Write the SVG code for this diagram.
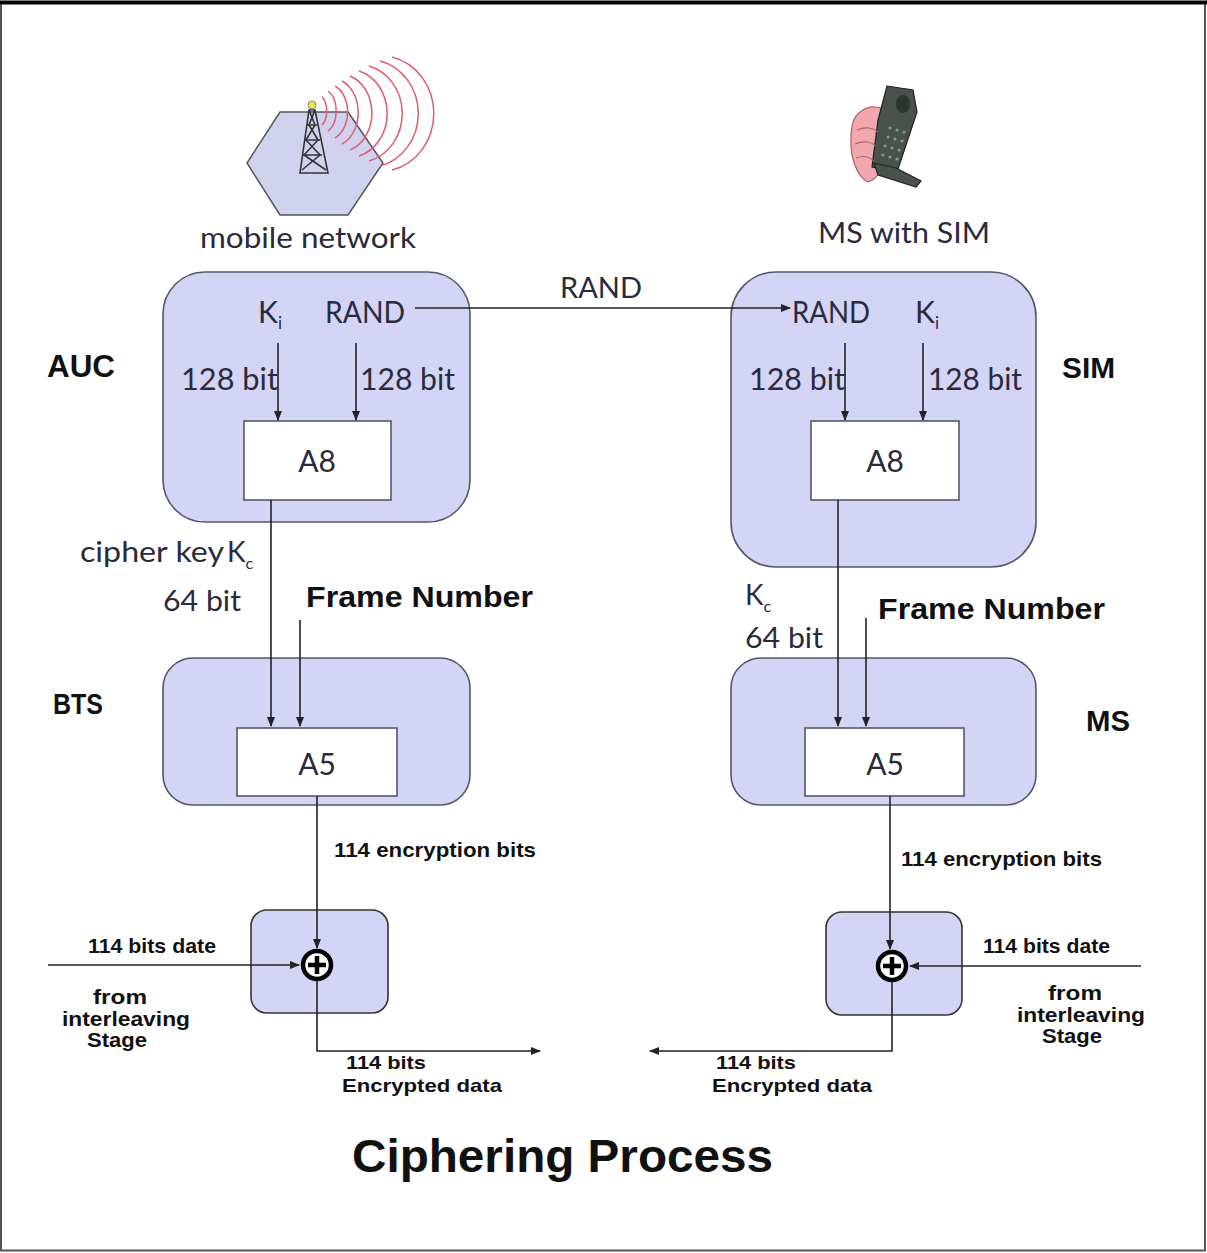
<svg xmlns="http://www.w3.org/2000/svg" width="1207" height="1253" viewBox="0 0 1207 1253">
  <style>
    .blk { fill: #d4d4f6; stroke: #55556a; stroke-width: 1.6; }
    .alg { fill: #ffffff; stroke: #55556a; stroke-width: 1.6; }
    .xorbox { fill: #d4d4f6; stroke: #333; stroke-width: 1.6; }
    .cal { font-family: Lato, "Open Sans", sans-serif; fill: #2a2a3c; }
    .bold { font-family: "Liberation Sans", Arial, sans-serif; font-weight: bold; fill: #111; }
    .wire { stroke: #222; stroke-width: 1.6; fill: none; }
    .wave { stroke: #e35a6e; stroke-width: 1.5; fill: none; }
    .xor { fill: #fff; stroke: #000; stroke-width: 4.5; }
    .plus { stroke: #000; stroke-width: 4.5; }
  </style>
  <defs>
    <marker id="arr" markerUnits="userSpaceOnUse" markerWidth="10" markerHeight="8" refX="9" refY="4" orient="auto">
      <path d="M0,0 L10,4 L0,8 z" fill="#222"/>
    </marker>
  </defs>

  <!-- page frame -->
  <rect x="1" y="2.5" width="1204" height="1248" fill="#fff" stroke="#555" stroke-width="2"/>
  <line x1="0" y1="2.5" x2="1207" y2="2.5" stroke="#000" stroke-width="4"/>

  <!-- network cell icon -->
  <g id="mobile-network">
    <polygon points="280,112 348,112 383,163 348,215 280,215 247,163" fill="#d0d2f0" stroke="#555" stroke-width="1.5"/>
    <g class="wave">
      <path d="M322,97 A9,16 0 0 1 322,125"/>
      <path d="M328,91 A14,22 0 0 1 328,131"/>
      <path d="M335,86 A20,28 0 0 1 335,138"/>
      <path d="M342,81 A26,34 0 0 1 342,144"/>
      <path d="M350,76 A32,39 0 0 1 350,150"/>
      <path d="M359,71 A38,44 0 0 1 359,156"/>
      <path d="M369,66 A44,49 0 0 1 369,161"/>
      <path d="M380,61 A50,54 0 0 1 380,166"/>
      <path d="M392,57 A54,58 0 0 1 392,170"/>
    </g>
    <g stroke="#333" stroke-width="1.6" fill="none">
      <path d="M309,110 L300,173 L328,173 L315,110 Z"/>
      <path d="M309,110 L315,125 L306,140 L320,155 L302,170"/>
      <path d="M315,110 L309,125 L318,140 L304,155 L326,170"/>
      <path d="M307,125 L317,125 M305,140 L320,140 M303,155 L322,155"/>
    </g>
    <circle cx="312" cy="105" r="4" fill="#e8e84a" stroke="#888" stroke-width="1"/>
    <text class="cal" x="308" y="248" font-size="28" text-anchor="middle" textLength="216" lengthAdjust="spacingAndGlyphs">mobile network</text>
  </g>

  <!-- handset icon -->
  <g id="ms-handset">
    <path d="M860,112 C870,104 884,106 886,114 L886,150 C884,166 880,178 868,182 C856,176 850,156 851,138 C851,124 854,116 860,112 Z" fill="#f0a8ae" stroke="#b06068" stroke-width="1.2"/>
    <path d="M887,86 L913,90 L917,112 L897,172 L872,167 L878,120 Z" fill="#4a524c" stroke="#222" stroke-width="1.2"/>
    <ellipse cx="903" cy="104" rx="7" ry="9" fill="#2f3530"/>
    <g fill="#8a9a8e">
      <circle cx="890" cy="128" r="1.6"/><circle cx="897" cy="130" r="1.6"/><circle cx="904" cy="132" r="1.6"/>
      <circle cx="888" cy="137" r="1.6"/><circle cx="895" cy="139" r="1.6"/><circle cx="902" cy="141" r="1.6"/>
      <circle cx="885" cy="146" r="1.6"/><circle cx="892" cy="148" r="1.6"/><circle cx="899" cy="150" r="1.6"/>
      <circle cx="883" cy="155" r="1.6"/><circle cx="890" cy="157" r="1.6"/><circle cx="897" cy="159" r="1.6"/>
    </g>
    <path d="M874,163 L896,168 L921,181 L916,187 L878,175 Z" fill="#4a524c" stroke="#222" stroke-width="1.2"/>
    <path d="M857,130 C866,126 874,128 878,132 M855,144 C864,140 872,142 876,146 M856,158 C864,155 870,157 874,161" stroke="#b06068" stroke-width="1.2" fill="none"/>
    <text class="cal" x="904" y="243" font-size="28" text-anchor="middle" textLength="172" lengthAdjust="spacingAndGlyphs">MS with SIM</text>
  </g>

  <!-- AUC -->
  <g id="auc">
    <rect class="blk" x="163" y="272" width="307" height="250" rx="42"/>
    <text class="cal" x="258" y="323" font-size="30">K<tspan font-size="17" dy="6">i</tspan></text>
    <text class="cal" x="325" y="323" font-size="30" textLength="80" lengthAdjust="spacingAndGlyphs">RAND</text>
    <text class="cal" x="181" y="390" font-size="30" textLength="97" lengthAdjust="spacingAndGlyphs">128 bit</text>
    <text class="cal" x="360" y="390" font-size="30" textLength="95" lengthAdjust="spacingAndGlyphs">128 bit</text>
    <text class="bold" x="47" y="377" font-size="31" textLength="68" lengthAdjust="spacingAndGlyphs">AUC</text>
  </g>
  <g id="auc-a8">
    <rect class="alg" x="244" y="421" width="147" height="79"/>
    <text class="cal" x="317" y="472" font-size="30" text-anchor="middle">A8</text>
  </g>

  <!-- SIM -->
  <g id="sim">
    <rect class="blk" x="731" y="272" width="305" height="295" rx="45"/>
    <text class="cal" x="792" y="323" font-size="30" textLength="78" lengthAdjust="spacingAndGlyphs">RAND</text>
    <text class="cal" x="915" y="323" font-size="30">K<tspan font-size="17" dy="6">i</tspan></text>
    <text class="cal" x="749" y="390" font-size="30" textLength="96" lengthAdjust="spacingAndGlyphs">128 bit</text>
    <text class="cal" x="928" y="390" font-size="30" textLength="94" lengthAdjust="spacingAndGlyphs">128 bit</text>
    <text class="bold" x="1062" y="378" font-size="29" textLength="53" lengthAdjust="spacingAndGlyphs">SIM</text>
  </g>
  <g id="sim-a8">
    <rect class="alg" x="811" y="421" width="148" height="79"/>
    <text class="cal" x="885" y="472" font-size="30" text-anchor="middle">A8</text>
  </g>

  <!-- BTS -->
  <g id="bts">
    <rect class="blk" x="163" y="658" width="307" height="147" rx="30"/>
    <text class="bold" x="53" y="714" font-size="29" textLength="50" lengthAdjust="spacingAndGlyphs">BTS</text>
  </g>
  <g id="bts-a5">
    <rect class="alg" x="237" y="728" width="160" height="68"/>
    <text class="cal" x="317" y="775" font-size="30" text-anchor="middle">A5</text>
  </g>

  <!-- MS -->
  <g id="ms">
    <rect class="blk" x="731" y="658" width="305" height="147" rx="30"/>
    <text class="bold" x="1086" y="731" font-size="29" textLength="44" lengthAdjust="spacingAndGlyphs">MS</text>
  </g>
  <g id="ms-a5">
    <rect class="alg" x="805" y="728" width="159" height="68"/>
    <text class="cal" x="885" y="775" font-size="30" text-anchor="middle">A5</text>
  </g>

  <!-- XOR stages -->
  <g id="xor-left">
    <rect class="xorbox" x="251" y="910" width="137" height="103" rx="16"/>
    <circle class="xor" cx="317" cy="965" r="14"/>
    <line class="plus" x1="308" y1="965" x2="326" y2="965"/>
    <line class="plus" x1="317" y1="956" x2="317" y2="974"/>
  </g>
  <g id="xor-right">
    <rect class="xorbox" x="826" y="912" width="136" height="103" rx="16"/>
    <circle class="xor" cx="892" cy="966" r="14"/>
    <line class="plus" x1="883" y1="966" x2="901" y2="966"/>
    <line class="plus" x1="892" y1="957" x2="892" y2="975"/>
  </g>

  <!-- connectors -->
  <g id="connectors">
    <line class="wire" x1="278" y1="343" x2="278" y2="420" marker-end="url(#arr)"/>
    <line class="wire" x1="356" y1="343" x2="356" y2="420" marker-end="url(#arr)"/>
    <line class="wire" x1="415" y1="308" x2="790" y2="308" marker-end="url(#arr)"/>
    <line class="wire" x1="845" y1="343" x2="845" y2="420" marker-end="url(#arr)"/>
    <line class="wire" x1="923" y1="343" x2="923" y2="420" marker-end="url(#arr)"/>
    <line class="wire" x1="271" y1="500" x2="271" y2="726" marker-end="url(#arr)"/>
    <line class="wire" x1="300" y1="620" x2="300" y2="726" marker-end="url(#arr)"/>
    <line class="wire" x1="838" y1="500" x2="838" y2="726" marker-end="url(#arr)"/>
    <line class="wire" x1="866" y1="618" x2="866" y2="726" marker-end="url(#arr)"/>
    <line class="wire" x1="317" y1="796" x2="317" y2="948" marker-end="url(#arr)"/>
    <line class="wire" x1="890" y1="796" x2="890" y2="949" marker-end="url(#arr)"/>
    <line class="wire" x1="48" y1="965" x2="299" y2="965" marker-end="url(#arr)"/>
    <line class="wire" x1="1141" y1="966" x2="910" y2="966" marker-end="url(#arr)"/>
    <polyline class="wire" points="317,980 317,1051 540,1051" marker-end="url(#arr)"/>
    <polyline class="wire" points="892,981 892,1051 650,1051" marker-end="url(#arr)"/>
  </g>

  <!-- connector labels -->
  <g id="labels">
    <text class="cal" x="601" y="298" font-size="28" text-anchor="middle" textLength="82" lengthAdjust="spacingAndGlyphs">RAND</text>
    <text class="cal" x="80" y="562" font-size="28" textLength="144" lengthAdjust="spacingAndGlyphs">cipher key</text>
    <text class="cal" x="227" y="562" font-size="28">K<tspan font-size="16" dy="7">c</tspan></text>
    <text class="cal" x="163" y="611" font-size="28" textLength="78" lengthAdjust="spacingAndGlyphs">64 bit</text>
    <text class="bold" x="306" y="607" font-size="30" textLength="227" lengthAdjust="spacingAndGlyphs">Frame Number</text>
    <text class="cal" x="745" y="605" font-size="28">K<tspan font-size="16" dy="7">c</tspan></text>
    <text class="cal" x="745" y="648" font-size="28" textLength="78" lengthAdjust="spacingAndGlyphs">64 bit</text>
    <text class="bold" x="878" y="619" font-size="30" textLength="227" lengthAdjust="spacingAndGlyphs">Frame Number</text>
    <text class="bold" x="334" y="857" font-size="21" textLength="202" lengthAdjust="spacingAndGlyphs">114 encryption bits</text>
    <text class="bold" x="901" y="866" font-size="21" textLength="201" lengthAdjust="spacingAndGlyphs">114 encryption bits</text>
    <text class="bold" x="88" y="953" font-size="21" textLength="128" lengthAdjust="spacingAndGlyphs">114 bits date</text>
    <text class="bold" x="983" y="953" font-size="21" textLength="127" lengthAdjust="spacingAndGlyphs">114 bits date</text>
    <g class="bold" font-size="21" text-anchor="middle">
      <text x="120" y="1004" textLength="54" lengthAdjust="spacingAndGlyphs">from</text>
      <text x="126" y="1026" textLength="128" lengthAdjust="spacingAndGlyphs">interleaving</text>
      <text x="117" y="1047" textLength="60" lengthAdjust="spacingAndGlyphs">Stage</text>
      <text x="1075" y="1000" textLength="54" lengthAdjust="spacingAndGlyphs">from</text>
      <text x="1081" y="1022" textLength="128" lengthAdjust="spacingAndGlyphs">interleaving</text>
      <text x="1072" y="1043" textLength="60" lengthAdjust="spacingAndGlyphs">Stage</text>
    </g>
    <text class="bold" x="346" y="1069" font-size="19" textLength="80" lengthAdjust="spacingAndGlyphs">114 bits</text>
    <text class="bold" x="342" y="1092" font-size="19" textLength="160" lengthAdjust="spacingAndGlyphs">Encrypted data</text>
    <text class="bold" x="716" y="1069" font-size="19" textLength="80" lengthAdjust="spacingAndGlyphs">114 bits</text>
    <text class="bold" x="712" y="1092" font-size="19" textLength="160" lengthAdjust="spacingAndGlyphs">Encrypted data</text>
  </g>

  <text class="bold" x="352" y="1172" font-size="46" textLength="421" lengthAdjust="spacingAndGlyphs">Ciphering Process</text>
</svg>
